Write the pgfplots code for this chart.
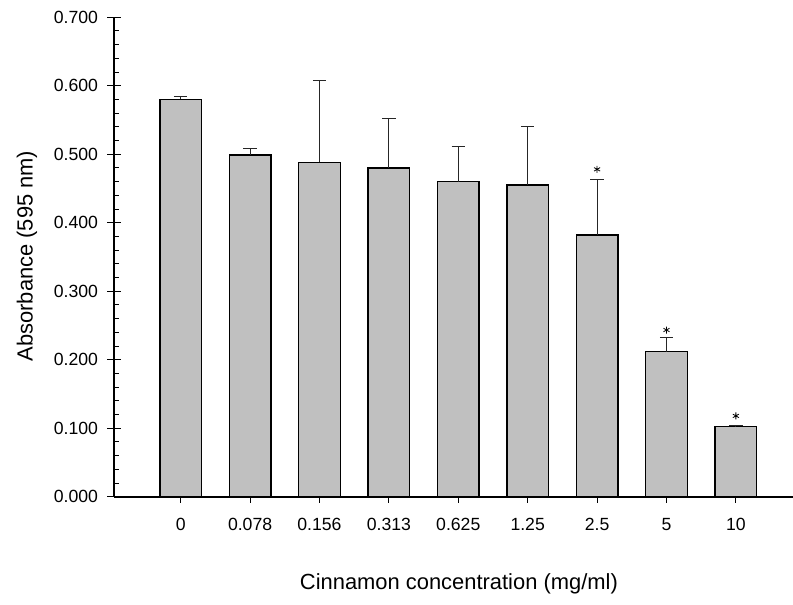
\documentclass[border=0pt]{standalone}
\usepackage{fontspec}
\setmainfont{Liberation Sans}
\usepackage{pgfplots}
\pgfplotsset{compat=1.18}
\definecolor{barfill}{RGB}{192,192,192}
\pgfplotstableread{
x y e
0 0.580 0.005
1 0.499 0.010
2 0.488 0.120
3 0.480 0.072
4 0.460 0.051
5 0.455 0.086
6 0.382 0.081
7 0.212 0.021
8 0.102 0.002
}\bars
\begin{document}
\begin{tikzpicture}
\useasboundingbox (0,0) rectangle (793bp,605bp);
\begin{axis}[
  at={(114bp,108.3bp)}, anchor=south west,
  scale only axis, width=679bp, height=479.4bp,
  xmin=-0.961, xmax=8.823, ymin=0, ymax=0.7,
  axis x line=bottom, axis y line=left,
  axis line style={-, line width=1.6bp, black},
  xtick=\empty,
  extra x ticks={0,1,2,3,4,5,6,7,8},
  extra x tick labels={0,0.078,0.156,0.313,0.625,1.25,2.5,5,10},
  extra x tick style={tick align=outside, major tick length=6bp, xticklabel style={yshift=-12bp}},
  ytick={0,0.1,0.2,0.3,0.4,0.5,0.6,0.7},
  minor y tick num=4,
  tick align=center,
  major tick length=13bp,
  minor tick length=5bp,
  minor y tick style={xshift=2.5bp},
  tick style={line width=1bp, black},
  /pgf/number format/assume math mode=true,
  /pgf/number format/fixed, /pgf/number format/fixed zerofill, /pgf/number format/precision=3,
  tick label style={font=\fontsize{17.7}{21}\selectfont},
  yticklabel style={xshift=-6bp},
  xlabel={Cinnamon concentration (mg/ml)},
  ylabel={Absorbance (595 nm)},
  label style={font=\fontsize{22}{26}\selectfont},
  xlabel style={at={(axis description cs:0.508,-0.1946)}, anchor=base},
  ylabel style={at={(axis description cs:-0.1197,0.502)}, anchor=base},
]
\addplot[ybar, bar width=0.6, fill=barfill, draw=black, line width=1.3bp,
  error bars/.cd, y dir=plus, y explicit,
  error bar style={line width=1.1bp, black!85},
  error mark=|, error mark options={mark size=6.7bp, line width=1.1bp, black!85}]
  table[x=x, y=y, y error=e] {\bars};
\addplot[only marks, mark=asterisk, mark size=3.5bp, black, line width=0.8bp]
  coordinates {(6,0.478) (7,0.2434) (8,0.118)};
\end{axis}
\end{tikzpicture}
\end{document}
